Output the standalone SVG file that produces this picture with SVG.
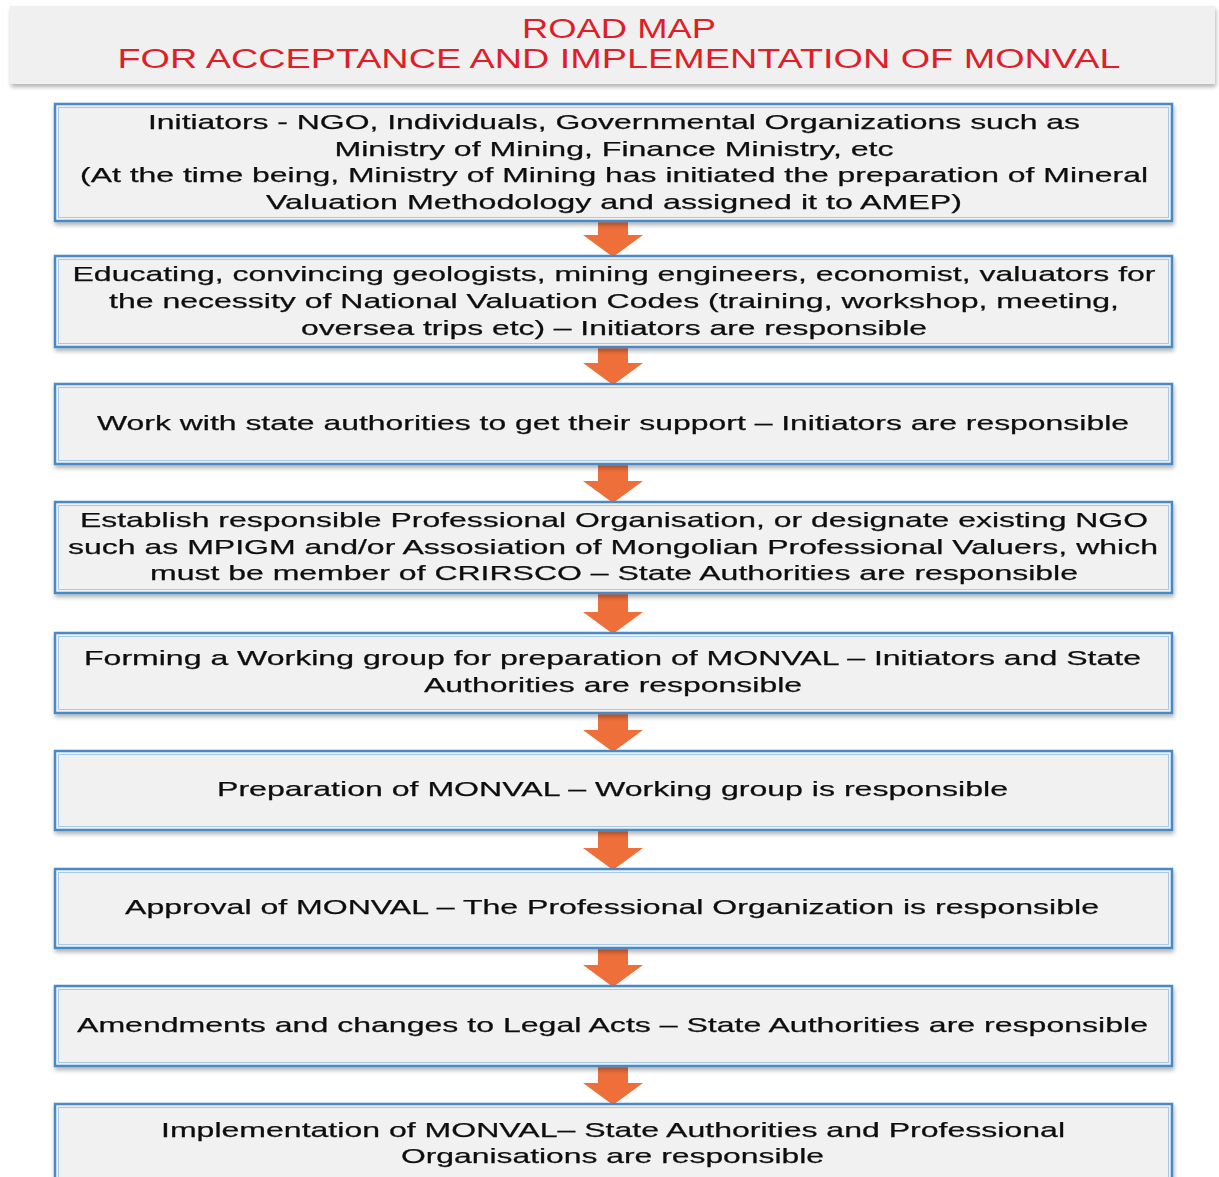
<svg xmlns="http://www.w3.org/2000/svg" width="1219" height="1177" viewBox="0 0 1219 1177">
  <defs>
    <style>
      .title { font-family: "Liberation Sans", Arial, sans-serif; font-size: 27px; fill: #de1e28; text-anchor: middle; }
      .box { fill: #f1f1f1; stroke: #4a8ac6; stroke-width: 2.5; }
      .inner { fill: none; stroke: #a6cbea; stroke-width: 1; }
      .lbl { font-family: "Liberation Sans", Arial, sans-serif; font-size: 21px; fill: #111111; stroke: #111111; stroke-width: 0.25; text-anchor: middle; }
      .arrow { fill: #ef6f3a; }
    </style>
    <filter id="shadow" x="-5%" y="-20%" width="110%" height="150%">
      <feGaussianBlur in="SourceAlpha" stdDeviation="2"/>
      <feOffset dx="1" dy="3" result="b"/>
      <feComponentTransfer><feFuncA type="linear" slope="0.3"/></feComponentTransfer>
      <feMerge><feMergeNode/><feMergeNode in="SourceGraphic"/></feMerge>
    </filter>
  </defs>

  <rect width="1219" height="1177" fill="#ffffff"/>

  <!-- title banner -->
  <g id="title">
    <rect x="10" y="6" width="1205" height="78" fill="#f0f0f0" filter="url(#shadow)"/>
    <text class="title" x="619" y="38" textLength="194" lengthAdjust="spacingAndGlyphs">ROAD MAP</text>
    <text class="title" x="619" y="68" textLength="1003" lengthAdjust="spacingAndGlyphs">FOR ACCEPTANCE AND IMPLEMENTATION OF MONVAL</text>
  </g>

  <!-- connectors: block arrows between steps -->
  <g id="connectors">
    <path class="arrow" d="M598 221 H628 V235 H643 L613 257 L583 235 H598 Z"/>
    <path class="arrow" d="M598 347 H628 V363 H643 L613 385 L583 363 H598 Z"/>
    <path class="arrow" d="M598 464 H628 V481 H643 L613 503 L583 481 H598 Z"/>
    <path class="arrow" d="M598 593 H628 V612 H643 L613 634 L583 612 H598 Z"/>
    <path class="arrow" d="M598 713 H628 V730 H643 L613 752 L583 730 H598 Z"/>
    <path class="arrow" d="M598 830 H628 V848 H643 L613 870 L583 848 H598 Z"/>
    <path class="arrow" d="M598 948 H628 V965 H643 L613 987 L583 965 H598 Z"/>
    <path class="arrow" d="M598 1066 H628 V1083 H643 L613 1105 L583 1083 H598 Z"/>
  </g>

  <g id="step1" filter="url(#shadow)">
    <rect class="box" x="55" y="104" width="1117" height="117"/>
    <rect class="inner" x="58.5" y="107.5" width="1110" height="110"/>
    <text class="lbl" x="614" y="129" textLength="932" lengthAdjust="spacingAndGlyphs">Initiators - NGO, Individuals, Governmental Organizations such as</text>
    <text class="lbl" x="614" y="156" textLength="559" lengthAdjust="spacingAndGlyphs">Ministry of Mining, Finance Ministry, etc</text>
    <text class="lbl" x="614" y="182" textLength="1068" lengthAdjust="spacingAndGlyphs">(At the time being, Ministry of Mining has initiated the preparation of Mineral</text>
    <text class="lbl" x="614" y="209" textLength="696" lengthAdjust="spacingAndGlyphs">Valuation Methodology and assigned it to AMEP)</text>
  </g>

  <g id="step2" filter="url(#shadow)">
    <rect class="box" x="55" y="256" width="1117" height="91"/>
    <rect class="inner" x="58.5" y="259.5" width="1110" height="84"/>
    <text class="lbl" x="614" y="281" textLength="1083" lengthAdjust="spacingAndGlyphs">Educating, convincing geologists, mining engineers, economist, valuators for</text>
    <text class="lbl" x="614" y="308" textLength="1010" lengthAdjust="spacingAndGlyphs">the necessity of National Valuation Codes (training, workshop, meeting,</text>
    <text class="lbl" x="614" y="335" textLength="626" lengthAdjust="spacingAndGlyphs">oversea trips etc) – Initiators are responsible</text>
  </g>

  <g id="step3" filter="url(#shadow)">
    <rect class="box" x="55" y="384" width="1117" height="80"/>
    <rect class="inner" x="58.5" y="387.5" width="1110" height="73"/>
    <text class="lbl" x="613" y="430" textLength="1032" lengthAdjust="spacingAndGlyphs">Work with state authorities to get their support – Initiators are responsible</text>
  </g>

  <g id="step4" filter="url(#shadow)">
    <rect class="box" x="55" y="502" width="1117" height="91"/>
    <rect class="inner" x="58.5" y="505.5" width="1110" height="84"/>
    <text class="lbl" x="614" y="527" textLength="1068" lengthAdjust="spacingAndGlyphs">Establish responsible Professional Organisation, or designate existing NGO</text>
    <text class="lbl" x="613" y="554" textLength="1090" lengthAdjust="spacingAndGlyphs">such as MPIGM and/or Assosiation of Mongolian Professional Valuers, which</text>
    <text class="lbl" x="614" y="580" textLength="928" lengthAdjust="spacingAndGlyphs">must be member of CRIRSCO – State Authorities are responsible</text>
  </g>

  <g id="step5" filter="url(#shadow)">
    <rect class="box" x="55" y="633" width="1117" height="80"/>
    <rect class="inner" x="58.5" y="636.5" width="1110" height="73"/>
    <text class="lbl" x="612.5" y="665" textLength="1057" lengthAdjust="spacingAndGlyphs">Forming a Working group for preparation of MONVAL – Initiators and State</text>
    <text class="lbl" x="613" y="692" textLength="378" lengthAdjust="spacingAndGlyphs">Authorities are responsible</text>
  </g>

  <g id="step6" filter="url(#shadow)">
    <rect class="box" x="55" y="751" width="1117" height="79"/>
    <rect class="inner" x="58.5" y="754.5" width="1110" height="72"/>
    <text class="lbl" x="612.5" y="796" textLength="791" lengthAdjust="spacingAndGlyphs">Preparation of MONVAL – Working group is responsible</text>
  </g>

  <g id="step7" filter="url(#shadow)">
    <rect class="box" x="55" y="869" width="1117" height="79"/>
    <rect class="inner" x="58.5" y="872.5" width="1110" height="72"/>
    <text class="lbl" x="612" y="914" textLength="974" lengthAdjust="spacingAndGlyphs">Approval of MONVAL – The Professional Organization is responsible</text>
  </g>

  <g id="step8" filter="url(#shadow)">
    <rect class="box" x="55" y="986" width="1117" height="80"/>
    <rect class="inner" x="58.5" y="989.5" width="1110" height="73"/>
    <text class="lbl" x="612.5" y="1032" textLength="1071" lengthAdjust="spacingAndGlyphs">Amendments and changes to Legal Acts – State Authorities are responsible</text>
  </g>

  <g id="step9" filter="url(#shadow)">
    <rect class="box" x="55" y="1104" width="1117" height="90"/>
    <rect class="inner" x="58.5" y="1107.5" width="1110" height="83"/>
    <text class="lbl" x="613" y="1137" textLength="904" lengthAdjust="spacingAndGlyphs">Implementation of MONVAL– State Authorities and Professional</text>
    <text class="lbl" x="612.5" y="1163" textLength="423" lengthAdjust="spacingAndGlyphs">Organisations are responsible</text>
  </g>
</svg>
